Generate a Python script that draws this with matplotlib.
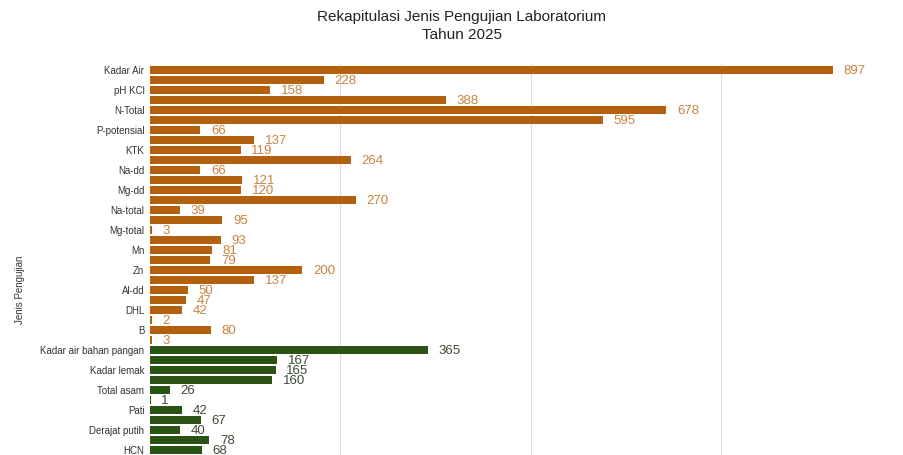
import matplotlib.pyplot as plt

# labels only shown for every other bar in the original
labels = ['Kadar Air', 'pH KCl', 'N-Total', 'P-potensial', 'KTK', 'Na-dd', 'Mg-dd',
          'Na-total', 'Mg-total', 'Mn', 'Zn', 'Al-dd', 'DHL', 'B',
          'Kadar air bahan pangan', 'Kadar lemak', 'Total asam', 'Pati',
          'Derajat putih', 'HCN']
tanah = [897, 228, 158, 388, 678, 595, 66, 137, 119, 264, 66, 121, 120, 270,
         39, 95, 3, 93, 81, 79, 200, 137, 50, 47, 42, 2, 80, 3]
pangan = [365, 167, 165, 160, 26, 1, 42, 67, 40, 78, 68]

orange = '#B3600F'
green = '#2C5217'

plt.rcParams['font.family'] = ['Liberation Sans', 'DejaVu Sans']
fig = plt.figure(figsize=(9.04, 4.55), dpi=100)
ax = fig.add_axes([150 / 904, 1 - 466 / 455, 754 / 904, (466 - 64) / 455])

values = tanah + pangan
colors = [orange] * len(tanah) + [green] * len(pangan)
ypos = list(range(len(values)))
ax.barh(ypos, values, height=0.8, color=colors, zorder=3)

for y, v, c in zip(ypos, values, colors):
    tc = '#C9823F' if c == orange else '#3d4a35'
    ax.text(v + 14, y + 0.15, str(v), va='center', ha='left', fontsize=9.5, color=tc, zorder=4)

ax.set_xlim(0, 990)
ax.set_ylim(39.6, -0.6)
ax.set_yticks(ypos[::2])
ax.set_yticklabels(labels, fontsize=7, color='#333333')
ax.set_xticks([250, 500, 750])
ax.tick_params(axis='both', length=0, pad=4)
ax.tick_params(axis='x', labelbottom=False)
ax.grid(axis='x', color='#dddddd', linewidth=0.8, zorder=0)
for s in ax.spines.values():
    s.set_visible(False)

fig.text(20 / 904, 1 - 290 / 455, 'Jenis Pengujian', rotation=90, ha='center', va='center',
         fontsize=7, color='#333333')
fig.text(462 / 904, 1 - 26 / 455, 'Rekapitulasi Jenis Pengujian Laboratorium\nTahun 2025',
         ha='center', va='center', fontsize=11, color='#222222', linespacing=1.3)

fig.savefig('out.png', dpi=100)
